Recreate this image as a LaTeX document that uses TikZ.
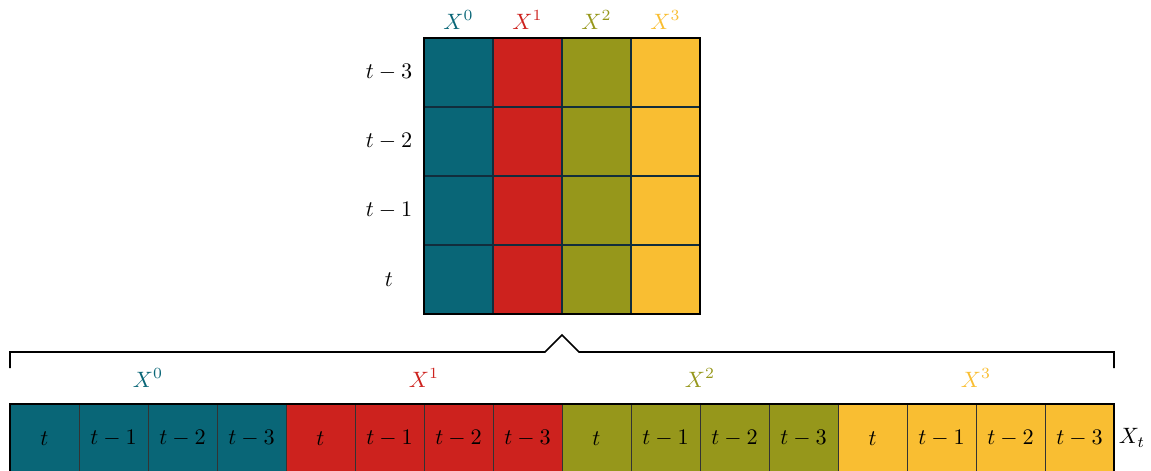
\documentclass[tikz,border=0pt]{standalone}
\definecolor{cteal}{RGB}{9,102,119}
\definecolor{cred}{RGB}{205,34,30}
\definecolor{colive}{RGB}{150,151,27}
\definecolor{cyel}{RGB}{249,190,50}
\definecolor{cline}{RGB}{18,45,60}
\begin{document}
\begin{tikzpicture}[x=0.45pt,y=-0.45pt,
  cell/.style={draw=cline, line width=0.5pt, minimum width=31.05pt, minimum height=31.05pt, inner sep=0pt, outer sep=0pt},
  bcell/.style={cell, draw=black!80, line width=0.4pt},
  lbl/.style={inner sep=0pt},
  brace/.style={draw=black, line width=0.75pt}]
\useasboundingbox (0,0) rectangle (1151,470);
\foreach \c/\col in {0/cteal,1/cred,2/colive,3/cyel} {
  \foreach \r in {0,...,3} {
    \node[cell, fill=\col] (g\c\r) at ({458.5+69*\c},{72.5+69*\r}) {};
  }
  \node[lbl, text=\col] (h\c) at ({458.5+69*\c}, 20) {$X^{\c}$};
  \foreach \k/\txt in {0/t,1/t-1,2/t-2,3/t-3} {
    \node[bcell, fill=\col] (b\c\k) at ({44.5+276*\c+69*\k}, 438.5) {$\txt$};
  }
  \node[lbl, text=\col] (bl\c) at ({148+276*\c}, 378) {$X^{\c}$};
}
\draw[line width=0.6pt] (g00.north west) rectangle (g33.south east);
\draw[line width=0.6pt] (b00.north west) rectangle (b33.south east);
\foreach \r/\txt in {0/t-3,1/t-2,2/t-1,3/t} {
  \node[lbl] (r\r) at (389,{72.5+69*\r}) {$\txt$};
}
\node[lbl] (xt) at (1132,438) {$X_t$};
\coordinate (br0) at (10,368);
\coordinate (br1) at (10,352);
\coordinate (br2) at (545,352);
\coordinate (tip) at (562,335);
\coordinate (br3) at (579,352);
\coordinate (br4) at (1114,352);
\coordinate (br5) at (1114,368);
\draw[brace] (br0) -- (br1) -- (br2) -- (tip) -- (br3) -- (br4) -- (br5);
\end{tikzpicture}
\end{document}
